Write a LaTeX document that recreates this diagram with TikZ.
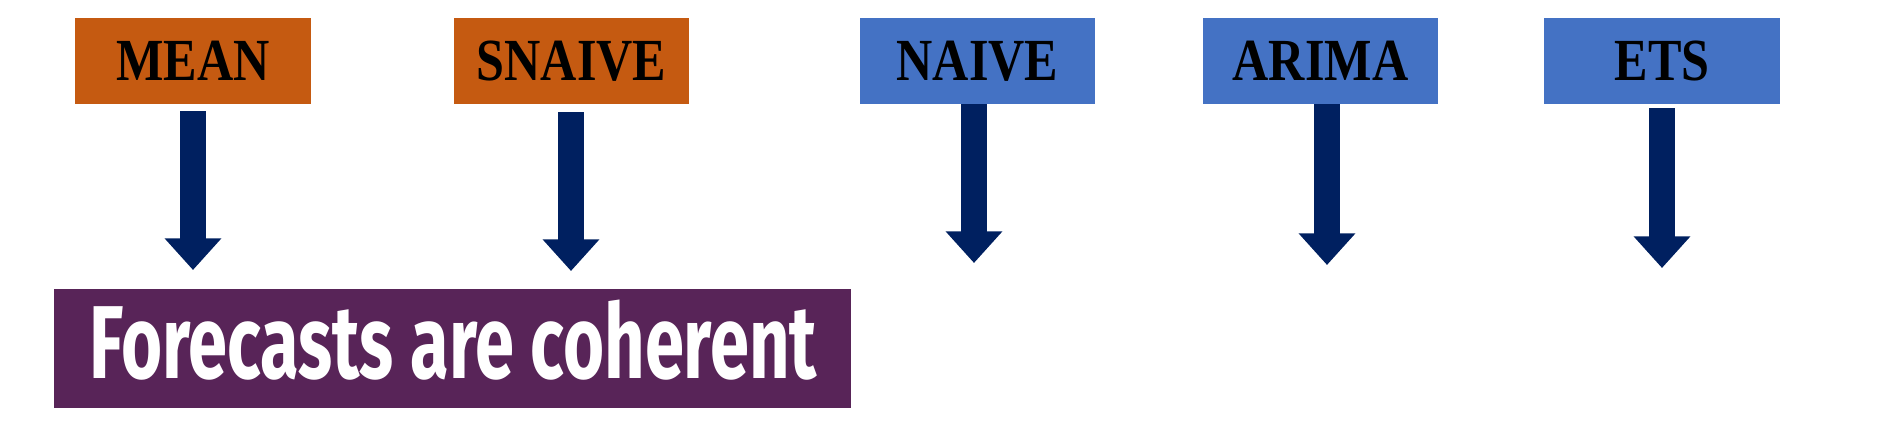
\documentclass[tikz,border=0pt]{standalone}
\usepackage{fontspec}
\setmainfont{Liberation Serif}
\newfontfamily\bannerfont{Fira Sans}
\usetikzlibrary{arrows.meta}

\definecolor{boxorange}{RGB}{197,90,17}
\definecolor{boxblue}{RGB}{68,114,196}
\definecolor{arrownavy}{RGB}{0,32,96}
\definecolor{bannerpurple}{RGB}{88,36,88}

\begin{document}
\begin{tikzpicture}[x=0.02cm,y=-0.02cm,
    model/.style={inner sep=0pt,minimum width=4.72cm,minimum height=1.72cm,
        font=\fontsize{34}{34}\selectfont\bfseries},
    simple/.style={model,fill=boxorange},
    complex/.style={model,fill=boxblue},
    down/.style={arrownavy,line width=15.3pt,-{Triangle[width=31.2pt,length=18pt]}}]

    \useasboundingbox (0,0) rectangle (1889,436);

    \node[simple] (mean) at (193,61) {\scalebox{0.84}[1]{MEAN}};
    \node[simple] (snaive) at (571.5,61) {\scalebox{0.84}[1]{SNAIVE}};
    \node[complex] (naive) at (977.5,61) {\scalebox{0.84}[1]{NAIVE}};
    \node[complex] (arima) at (1320.5,61) {\scalebox{0.84}[1]{ARIMA}};
    \node[complex] (ets) at (1662,61) {\scalebox{0.84}[1]{ETS}};

    \coordinate (meanTip) at (193,270);
    \coordinate (snaiveTip) at (571,271);
    \coordinate (naiveTip) at (974,263);
    \coordinate (arimaTip) at (1327,265);
    \coordinate (etsTip) at (1662,268);

    \draw[down] (mean.south -| meanTip) ++(0,7) -- (meanTip);
    \draw[down] (snaive.south -| snaiveTip) ++(0,8) -- (snaiveTip);
    \draw[down] (naive.south -| naiveTip) -- (naiveTip);
    \draw[down] (arima.south -| arimaTip) -- (arimaTip);
    \draw[down] (ets.south -| etsTip) ++(0,4) -- (etsTip);

    % result
    \node[fill=bannerpurple,inner sep=0pt,minimum width=15.94cm,minimum height=2.38cm] (banner) at (452.5,348.5) {};
    \node[anchor=base west,inner sep=0pt,text=white,font=\bannerfont\bfseries\fontsize{59}{59}\selectfont] (claim) at (89,378) {\scalebox{0.68}[1]{Forecasts are coherent}};

\end{tikzpicture}
\end{document}
